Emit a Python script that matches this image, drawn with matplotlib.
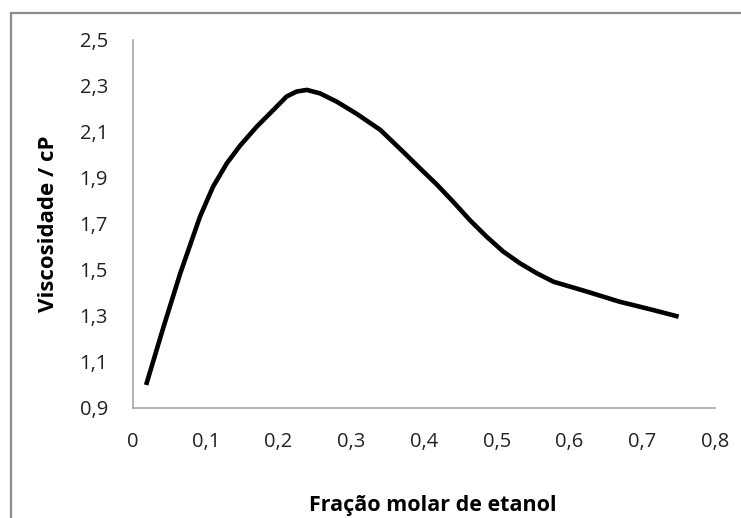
import matplotlib
matplotlib.use("Agg")
import matplotlib.pyplot as plt
from matplotlib.patches import Rectangle

# Data
fracao_molar = [0.018, 0.042, 0.065, 0.0921, 0.110, 0.129, 0.147, 0.170, 0.193,
                0.211, 0.225, 0.239, 0.257, 0.280, 0.307, 0.340, 0.372, 0.3945,
                0.4175, 0.440, 0.463, 0.486, 0.509, 0.532, 0.555, 0.578, 0.624,
                0.669, 0.715, 0.750]
viscosidade = [1.000, 1.253, 1.486, 1.732, 1.862, 1.964, 2.040, 2.123, 2.196,
               2.254, 2.276, 2.283, 2.268, 2.232, 2.180, 2.109, 2.012, 1.942,
               1.872, 1.797, 1.717, 1.645, 1.580, 1.529, 1.486, 1.449, 1.406,
               1.362, 1.326, 1.297]

x_ticks = [0, 0.1, 0.2, 0.3, 0.4, 0.5, 0.6, 0.7, 0.8]
y_ticks = [0.9, 1.1, 1.3, 1.5, 1.7, 1.9, 2.1, 2.3, 2.5]
x_labels = ["0", "0,1", "0,2", "0,3", "0,4", "0,5", "0,6", "0,7", "0,8"]
y_labels = ["0,9", "1,1", "1,3", "1,5", "1,7", "1,9", "2,1", "2,3", "2,5"]

plt.rcParams['font.family'] = ['Open Sans', 'DejaVu Sans']

W, H = 741, 518
fig = plt.figure(figsize=(W / 100, H / 100), dpi=100)
fig.patch.set_facecolor('white')

# outer chart border (left & top visible, extends past image)
fig.patches.append(Rectangle((11 / W, -0.2), 1.2, (H - 13) / H + 0.2,
                             transform=fig.transFigure, fill=False,
                             edgecolor='#8c8c8c', linewidth=1.6))

ax = fig.add_axes([133 / W, 1 - 408 / H, (715 - 133) / W, (408 - 40) / H])
ax.plot(fracao_molar, viscosidade, color='black', linewidth=3.3,
        solid_capstyle='butt', solid_joinstyle='round')

ax.set_xlim(0, 0.8)
ax.set_ylim(0.9, 2.5)
ax.set_xticks(x_ticks)
ax.set_xticklabels(x_labels)
ax.set_yticks(y_ticks)
ax.set_yticklabels(y_labels)
ax.tick_params(axis='both', length=0, labelsize=14.5, colors='#222222')
ax.tick_params(axis='x', pad=17)
ax.tick_params(axis='y', pad=18)

for s in ['top', 'right']:
    ax.spines[s].set_visible(False)
for s in ['left', 'bottom']:
    ax.spines[s].set_color('#a6a6a6')
    ax.spines[s].set_linewidth(1.2)

fig.text(433 / W, 1 - 505 / H, "Fração molar de etanol", ha='center', va='center',
         fontsize=15.5, fontweight='bold', color='black')
fig.text(49 / W, 1 - 224 / H, "Viscosidade / cP", ha='center', va='center',
         rotation=90, fontsize=16, fontweight='bold', color='black')

fig.savefig("out.png", dpi=100, facecolor='white')
